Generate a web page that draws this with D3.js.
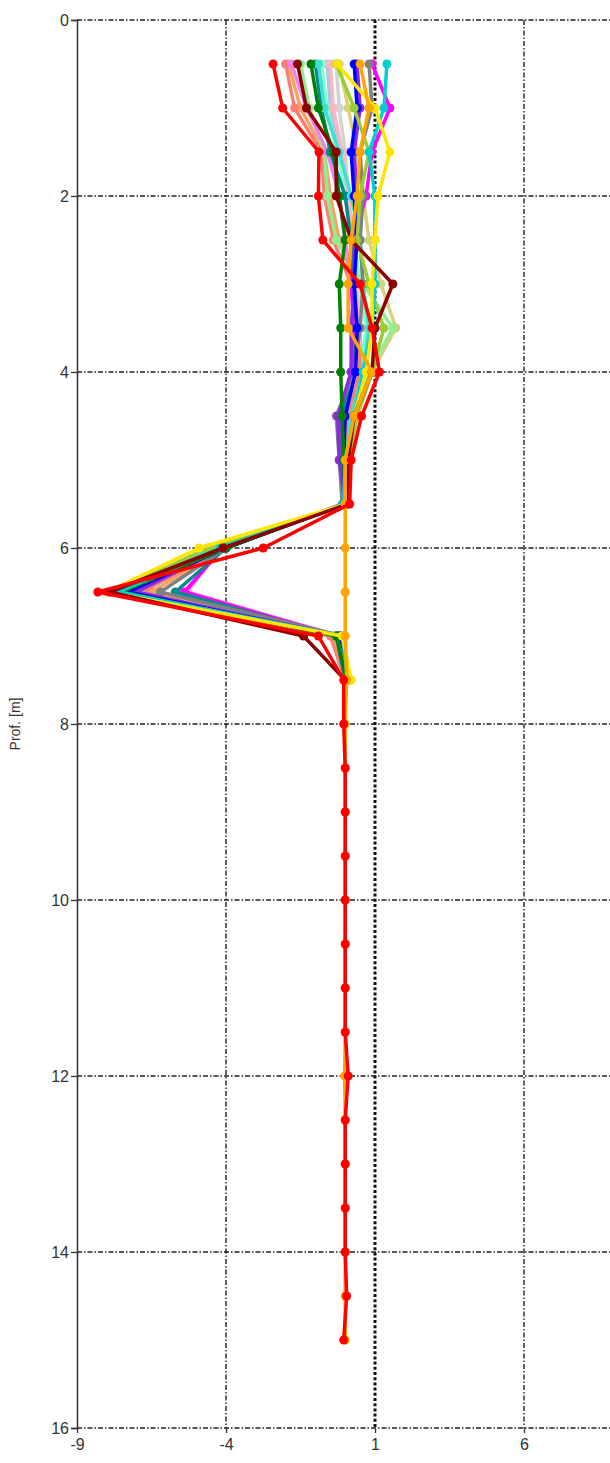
<!DOCTYPE html>
<html>
<head>
<meta charset="utf-8">
<script src="https://cdn.jsdelivr.net/npm/d3@7/dist/d3.min.js"></script>
<style>
  html, body { margin: 0; padding: 0; background: #fff; }
  svg { display: block; }
  text { font-family: "Liberation Sans", Arial, sans-serif; fill: #333; }
</style>
</head>
<body>
<svg id="chart" width="610" height="1463"></svg>
<script>
// ---------- DATA ----------
const xTicks = [-9, -4, 1, 6];
const yTicks = [0, 2, 4, 6, 8, 10, 12, 14, 16];
const yLabel = "Prof. [m]";

const depthsShort = [0.5, 1, 1.5, 2, 2.5, 3, 3.5, 4, 4.5, 5, 5.5, 6, 6.5, 7, 7.5];
const depthsLong = [0.5, 1, 1.5, 2, 2.5, 3, 3.5, 4, 4.5, 5, 5.5, 6, 6.5, 7, 7.5,
                    8, 8.5, 9, 9.5, 10, 10.5, 11, 11.5, 12, 12.5, 13, 13.5, 14, 14.5, 15];

const sLightGray   = [-0.3, -0.2, 0.0, 0.1, 0.2, 0.4, 0.5, 0.4, 0.0, -0.1, 0.0, -4.3, -7.1, -0.2, 0.1];
const sSteel       = [-0.6, -0.5, -0.2, 0.0, 0.2, 0.3, 0.4, 0.3, -0.1, -0.1, 0.0, -4.1, -6.8, -0.2, 0.05];
const sAquamarine  = [-0.8, -0.6, -0.3, 0.1, 0.3, 0.5, 0.7, 0.5, 0.1, 0.0, 0.0, -4.2, -7.4, -0.15, 0.1];
const sKhaki       = [-0.2, 0.1, 0.4, 0.6, 0.8, 1.2, 1.7, 0.9, 0.4, 0.1, 0.05, -4.5, -7.7, -0.3, 0.15];
const sSandy       = [-1.9, -1.5, -0.7, -0.5, -0.2, 0.3, 0.5, 0.5, 0.1, 0.0, 0.0, -4.0, -6.5, -0.4, 0.05];
const sPink        = [-0.5, -0.4, -0.1, 0.1, 0.3, 0.3, 0.5, 0.4, 0.0, -0.05, 0.0, -4.2, -7.3, -0.2, 0.05];
const sSalmon      = [-2.0, -1.7, -0.8, -0.7, -0.4, 0.2, 0.4, 0.5, 0.1, 0.0, 0.0, -4.1, -6.8, -0.5, 0.0];
const sLightGreen  = [-1.5, -1.2, -0.7, -0.6, -0.3, 0.6, 1.6, 0.8, 0.3, 0.0, 0.0, -4.3, -7.0, -0.2, 0.1];
const sViolet      = [-1.8, -1.3, -0.6, -0.2, 0.0, 0.2, 0.3, 0.2, -0.2, -0.15, -0.05, -4.2, -5.3, -0.2, 0.0];
const sMagenta     = [0.9, 1.5, 0.9, 0.7, 0.3, 0.2, 0.3, 0.2, -0.2, -0.1, 0.0, -4.1, -5.4, -0.25, 0.05];
const sTeal        = [-1.0, -0.8, -0.5, 0.0, 0.2, 0.3, 0.4, 0.3, -0.1, -0.1, 0.0, -4.0, -5.7, -0.3, 0.0];
const sTurquoise   = [-0.9, -0.7, -0.2, 0.2, 0.5, 0.6, 0.8, 0.6, 0.2, 0.0, 0.0, -4.4, -7.6, -0.1, 0.15];
const sGray        = [0.8, 0.9, 0.5, 0.6, 0.5, 0.6, 0.5, 0.3, -0.3, -0.2, -0.1, -4.0, -6.2, -0.1, 0.0];
const sBlueViolet  = [0.4, 0.5, 0.3, 0.4, 0.3, 0.3, 0.2, 0.2, -0.25, -0.2, 0.0, -4.1, -7.0, -0.2, 0.05];
const sBlue        = [0.3, 0.4, 0.2, 0.3, 0.4, 0.3, 0.4, 0.35, 0.0, -0.05, 0.0, -4.0, -7.3, -0.2, 0.05];
const sLime        = [-0.3, 0.3, 0.8, 0.5, 0.4, 0.8, 1.3, 0.9, 0.4, 0.1, 0.1, -4.6, -7.8, -0.3, 0.1];
const sGreen       = [-1.15, -0.9, -0.4, -0.2, 0.0, -0.2, -0.15, -0.15, -0.1, -0.05, 0.0, -4.0, -7.5, -0.3, 0.05];
const sCyan        = [1.4, 1.3, 0.8, 1.0, 1.0, 1.0, 0.9, 0.6, 0.3, 0.0, -0.05, -4.2, -7.6, -0.1, 0.1];
const sYellow      = [-0.27, 1.0, 1.5, 1.1, 1.0, 0.9, 0.9, 0.7, 0.3, 0.05, 0.05, -4.9, -8.0, -0.1, 0.2];
const sMaroon      = [-1.6, -1.3, -0.3, -0.3, 0.2, 1.6, 1.0, 0.9, 0.3, 0.1, 0.1, -4.1, -7.9, -1.4, 0.0];
const sOrange      = [0.5, 0.8, 0.5, 0.4, 0.2, 0.1, 0.1, 0.9, 0.3, 0.0, 0.0, 0.0, 0.0, 0.0, 0.05,
                      0.0, 0.0, 0.0, 0.0, 0.0, 0.0, 0.0, 0.0, -0.02, 0.0, 0.0, 0.0, 0.0, 0.0, 0.0];
const sRed         = [-2.42, -2.1, -0.88, -0.9, -0.75, 0.5, 0.9, 1.15, 0.55, 0.2, 0.15, -2.75, -8.3, -0.9, -0.05,
                      -0.05, 0.0, 0.0, 0.0, 0.0, 0.0, 0.0, 0.0, 0.1, 0.0, 0.0, 0.0, 0.0, 0.05, -0.05];

// drawing order (first drawn at the bottom)
const seriesValues = [sLightGray, sSteel, sAquamarine, sKhaki, sSandy, sPink, sSalmon, sLightGreen,
                      sViolet, sMagenta, sTeal, sTurquoise, sGray, sBlueViolet, sBlue, sLime,
                      sGreen, sCyan, sYellow, sMaroon, sOrange, sRed];

// ---------- STYLE ----------
const seriesColors = ["#d3d3d3", "#b0c4de", "#7fffd4", "#d8d27a", "#f4a460", "#ffb6c1", "#fa8072", "#90ee90",
                      "#ee82ee", "#ff00ff", "#008b8b", "#40e0d0", "#808080", "#8a2be2", "#0000ff", "#9acd32",
                      "#008000", "#00ced1", "#ffe600", "#8b0000", "#ffa500", "#ff0000"];

const W = 610, H = 1463;
const svg = d3.select("#chart");

const x = d3.scaleLinear().domain([-9, 9]).range([77, 77 + 18 * 29.8]);
const y = d3.scaleLinear().domain([0, 16]).range([20, 1428]);
const x0 = x(-9), x1 = W, y0 = y(0), y1 = y(16);
const fmt = d => String(d);

// horizontal grid (dash-dot)
svg.append("g").selectAll("line").data(yTicks).join("line")
  .attr("x1", x0).attr("x2", x1)
  .attr("y1", d => y(d)).attr("y2", d => y(d))
  .attr("stroke", "#222").attr("stroke-width", 1.3)
  .attr("stroke-dasharray", "5,2,1.5,2");

// vertical grid
svg.append("g").selectAll("line").data(xTicks.filter(d => d !== -9)).join("line")
  .attr("x1", d => x(d)).attr("x2", d => x(d))
  .attr("y1", y0).attr("y2", y1)
  .attr("stroke", "#111")
  .attr("stroke-width", d => d === 1 ? 3 : 1.3)
  .attr("stroke-dasharray", d => d === 1 ? "3,2.2" : "5,2,1.5,2");

// left axis
const yAxis = d3.axisLeft(y).tickValues(yTicks).tickSize(6).tickFormat(fmt);
const gy = svg.append("g").attr("transform", `translate(${x0},0)`).call(yAxis);
gy.select(".domain").attr("stroke", "#333").attr("stroke-width", 1.5);
gy.selectAll(".tick line").attr("stroke", "#333").attr("stroke-width", 1.3);
gy.selectAll(".tick text").attr("font-size", 16).attr("x", -8).attr("fill", "#333")
  .style("font-family", '"Liberation Sans", Arial, sans-serif');

// bottom axis
const xAxis = d3.axisBottom(x).tickValues(xTicks).tickSize(5).tickFormat(fmt);
const gx = svg.append("g").attr("transform", `translate(0,${y1})`).call(xAxis);
gx.select(".domain").remove();
gx.selectAll(".tick line").attr("stroke", "#333").attr("stroke-width", 1.3);
gx.selectAll(".tick text").attr("font-size", 16).attr("y", 11).attr("fill", "#333")
  .style("font-family", '"Liberation Sans", Arial, sans-serif');

// y label
svg.append("text")
  .attr("transform", `translate(20,${(y0 + y1) / 2}) rotate(-90)`)
  .attr("text-anchor", "middle")
  .attr("font-size", 14)
  .text(yLabel);

// series
svg.append("clipPath").attr("id", "clip")
  .append("rect").attr("x", x0).attr("y", 0).attr("width", W - x0).attr("height", y1 + 10);

const plot = svg.append("g").attr("clip-path", "url(#clip)");
const line = d3.line().x(d => x(d[0])).y(d => y(d[1]));

seriesValues.forEach((vals, i) => {
  const ds = vals.length === depthsLong.length ? depthsLong : depthsShort;
  const pts = vals.map((v, j) => [v, ds[j]]);
  const g = plot.append("g");
  g.append("path").datum(pts)
    .attr("d", line)
    .attr("fill", "none")
    .attr("stroke", seriesColors[i])
    .attr("stroke-width", 3.5)
    .attr("stroke-linejoin", "round");
  g.selectAll("circle").data(pts).join("circle")
    .attr("cx", d => x(d[0])).attr("cy", d => y(d[1]))
    .attr("r", 4.5)
    .attr("fill", seriesColors[i]);
});
</script>
</body>
</html>
